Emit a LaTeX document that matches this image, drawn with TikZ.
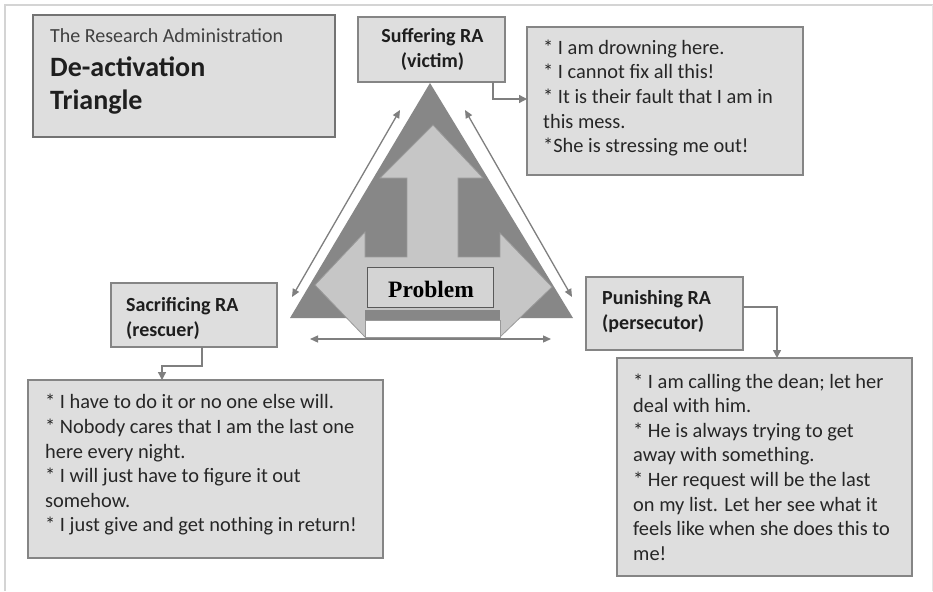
\documentclass[tikz,border=0pt]{standalone}
\usepackage{fontspec}
\setmainfont{Carlito}
\newfontfamily\timesfont{Liberation Serif}
\usetikzlibrary{arrows.meta,calc}
\definecolor{boxfill}{HTML}{DEDEDE}
\definecolor{boxline}{HTML}{858585}
\definecolor{trigdark}{HTML}{878787}
\definecolor{triglight}{HTML}{C6C6C6}
\definecolor{conncol}{HTML}{7F7F7F}
\definecolor{bodytext}{HTML}{262626}
\definecolor{headtext}{HTML}{1E1E1E}
\definecolor{subtext}{HTML}{404040}
\definecolor{framecol}{HTML}{D4D4D4}
\tikzset{
  box/.style={draw=boxline, fill=boxfill, line width=1.5pt, inner sep=0pt, outer sep=0pt, anchor=north west},
  bodytxt/.style={anchor=west, align=left, inner sep=0pt, text=bodytext, font=\fontsize{20.4}{24.6}\selectfont},
  headtxt/.style={inner sep=0pt, text=headtext, font=\fontsize{20}{25}\selectfont\bfseries},
  conn/.style={draw=conncol, line width=1.4pt, -{Triangle[length=8pt,width=8pt]}},
  dbl/.style={draw=conncol, line width=1.3pt, {Triangle[length=8pt,width=7pt]}-{Triangle[length=8pt,width=7pt]}},
}
\begin{document}
\begin{tikzpicture}[x=1pt,y=-1pt]
\useasboundingbox (0,0) rectangle (933,591);
\fill[white] (0,0) rectangle (933,591);
% frame
\draw[framecol, line width=1.5pt] (5,591) -- (5,5) -- (933,5);
\draw[framecol!60, line width=1pt] (932,5) -- (932,591);

% triangle
\coordinate (apex) at (430,83);
\coordinate (bl) at (290,318);
\coordinate (br) at (573,318);
\fill[trigdark] (apex) -- (br) -- (bl) -- cycle;
% three-way arrow
\filldraw[fill=triglight, draw=conncol!80, line width=0.8pt]
  (433,125) -- (483,178) -- (458,178) -- (458,257) -- (500,257) -- (500,233)
  -- (552,287) -- (500,337) -- (365,337) -- (315,285) -- (365,232) -- (365,257)
  -- (407,257) -- (407,178) -- (380,178) -- cycle;
\fill[trigdark] (365,310) rectangle (500,320);
\filldraw[fill=white, draw=conncol!80, line width=0.8pt] (365,320) rectangle (500,337);
\node[draw=black!65, fill=black!17, line width=1.2pt, minimum width=126pt, minimum height=40pt,
      inner sep=0pt, anchor=north west] (prob) at (367,267) {};
\node[inner sep=0pt, text=black, font=\timesfont\bfseries\fontsize{23.5}{26}\selectfont] (probtxt) at (431,289) {Problem};

% double arrows
\coordinate (l1) at (400,110); \coordinate (l2) at (292,297);
\coordinate (r1) at (465,110); \coordinate (r2) at (572,297);
\coordinate (b1) at (310,339); \coordinate (b2) at (551,339);
\draw[dbl] (l1) -- (l2);
\draw[dbl] (r1) -- (r2);
\draw[dbl] (b1) -- (b2);

% boxes
\node[box, draw=black!55, line width=1.8pt, minimum width=302pt, minimum height=122pt] (title) at (33,15) {};
\node[box, minimum width=147pt, minimum height=65pt] (suf) at (358,17) {};
\node[box, minimum width=276pt, minimum height=148pt] (rt) at (527,27) {};
\node[box, minimum width=166pt, minimum height=64pt] (sac) at (111,283) {};
\node[box, minimum width=355pt, minimum height=178pt] (blbox) at (28,380) {};
\node[box, minimum width=157pt, minimum height=73pt] (pun) at (586,277) {};
\node[box, minimum width=295pt, minimum height=218pt] (brbox) at (617,358) {};

% title texts
\node[anchor=base west, inner sep=0pt, text=subtext, font=\fontsize{20}{24}\selectfont] (t1) at (50,43) {The Research Administration};
\node[anchor=base west, inner sep=0pt, text=headtext, font=\fontsize{28}{33}\selectfont\bfseries] (t2) at (50,77) {De-activation};
\node[anchor=base west, inner sep=0pt, text=headtext, font=\fontsize{28}{33}\selectfont\bfseries] (t3) at (50,110) {Triangle};

% heading texts
\node[headtxt, align=center] (suftxt) at ($(suf.center)+(1,0)$) {Suffering RA\\(victim)};
\node[headtxt, align=left, anchor=west] (sactxt) at ($(sac.west)+(15,3)$) {Sacrificing RA\\(rescuer)};
\node[headtxt, align=left, anchor=west] (puntxt) at ($(pun.west)+(16,-2)$) {Punishing RA\\(persecutor)};

% body texts
\node[bodytxt] (rttxt) at ($(rt.west)+(16,-3)$) {* I am drowning here.\\* I cannot fix all this!\\* It is their fault that I am in\\this mess.\\*She is stressing me out!};
\node[bodytxt] (bltxt) at ($(blbox.west)+(17,-4)$) {* I have to do it or no one else will.\\* Nobody cares that I am the last one\\here every night.\\* I will just have to figure it out\\somehow.\\* I just give and get nothing in return!};
\node[bodytxt] (brtxt) at ($(brbox.west)+(16,0)$) {* I am calling the dean; let her\\deal with him.\\* He is always trying to get\\away with something.\\* Her request will be the last\\on my list. Let her see what it\\feels like when she does this to\\me!};

% connectors
\draw[conn] ($(suf.south east)+(-12,0)$) |- ($(rt.north west)+(0,72)$);
\draw[conn] ($(sac.south west)+(91,0)$) -- ++(0,19) -| ($(blbox.north west)+(134,0)$);
\draw[conn] ($(pun.north east)+(0,30)$) -| ($(brbox.north west)+(160,0)$);
\end{tikzpicture}
\end{document}
